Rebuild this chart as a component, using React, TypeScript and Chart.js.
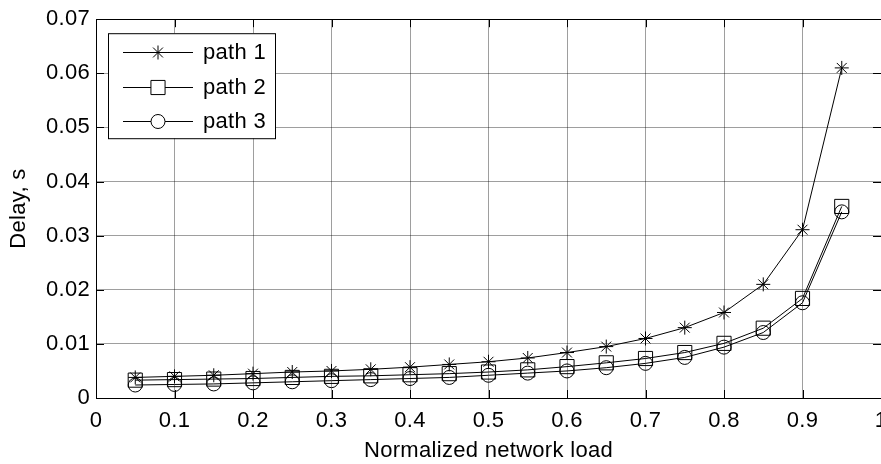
import React, { useEffect, useRef } from "react";
import { Chart, registerables } from "chart.js";
import { drawPoint } from "chart.js/helpers";

Chart.register(...registerables);

const loads = [0.05, 0.1, 0.15, 0.2, 0.25, 0.3, 0.35, 0.4, 0.45, 0.5, 0.55, 0.6, 0.65, 0.7, 0.75, 0.8, 0.85, 0.9, 0.95];
const path1 = [0.0038, 0.0040, 0.0042, 0.0045, 0.0048, 0.0050, 0.0053, 0.0057, 0.0062, 0.0067, 0.0074, 0.0084, 0.0095, 0.0110, 0.0130, 0.0158, 0.0210, 0.0311, 0.0610];
const path2 = [0.0033, 0.0034, 0.0035, 0.0036, 0.0038, 0.0040, 0.0041, 0.0043, 0.0045, 0.0048, 0.0052, 0.0058, 0.0065, 0.0073, 0.0084, 0.0101, 0.0129, 0.0184, 0.0354];
const path3 = [0.0024, 0.0025, 0.0026, 0.0028, 0.0030, 0.0032, 0.0034, 0.0036, 0.0038, 0.0042, 0.0046, 0.0050, 0.0056, 0.0064, 0.0075, 0.0094, 0.0121, 0.0176, 0.0344];
const seriesNames = ["path 1", "path 2", "path 3"];
const xTickLabels = ["0", "0.1", "0.2", "0.3", "0.4", "0.5", "0.6", "0.7", "0.8", "0.9", "1"];
const yTickLabels = ["0", "0.01", "0.02", "0.03", "0.04", "0.05", "0.06", "0.07"];
const xTitle = "Normalized network load";
const yTitle = "Delay, s";

const FONT = "'Liberation Sans', Arial, Helvetica, sans-serif";
const FONT_SIZE = 22;
const SPACING = "0.3px";

const spacingPlugin = {
  id: "spacing",
  beforeUpdate(chart: any) { chart.ctx.letterSpacing = SPACING; },
  beforeLayout(chart: any) { chart.ctx.letterSpacing = SPACING; },
  beforeDraw(chart: any) { chart.ctx.letterSpacing = SPACING; },
};

const boxAndTicks = {
  id: "boxAndTicks",
  afterDatasetsDraw(chart: any) {
    const { ctx, chartArea } = chart;
    const { left, right, top, bottom } = chartArea;
    const L = 8;
    ctx.save();
    ctx.strokeStyle = "#000";
    ctx.lineWidth = 1;
    ctx.beginPath();
    const xs = chart.scales.x;
    xs.ticks.forEach((t: any) => {
      const px = Math.round(xs.getPixelForValue(t.value)) + 0.5;
      ctx.moveTo(px, bottom);
      ctx.lineTo(px, bottom - L);
      ctx.moveTo(px, top);
      ctx.lineTo(px, top + L);
    });
    const ys = chart.scales.y;
    ys.ticks.forEach((t: any) => {
      const py = Math.round(ys.getPixelForValue(t.value)) + 0.5;
      ctx.moveTo(left, py);
      ctx.lineTo(left + L, py);
      ctx.moveTo(right, py);
      ctx.lineTo(right - L, py);
    });
    ctx.stroke();
    ctx.strokeRect(Math.round(left) + 0.5, Math.round(top) + 0.5, Math.round(right - left), Math.round(bottom - top));
    ctx.restore();
  },
};

const lineLegend = {
  id: "lineLegend",
  afterDraw(chart: any) {
    const { ctx, chartArea } = chart;
    const bx = chartArea.left + 12;
    const by = chartArea.top + 14;
    const bw = 167;
    const bh = 105;
    ctx.save();
    ctx.letterSpacing = SPACING;
    ctx.fillStyle = "#fff";
    ctx.fillRect(bx, by, bw, bh);
    ctx.strokeStyle = "#000";
    ctx.lineWidth = 1;
    ctx.strokeRect(bx + 0.5, by + 0.5, bw, bh);
    chart.data.datasets.forEach((ds: any, i: number) => {
      const cy = by + 19 + i * 34.5;
      ctx.strokeStyle = "#000";
      ctx.lineWidth = 1;
      ctx.beginPath();
      ctx.moveTo(bx + 15, Math.round(cy) + 0.5);
      ctx.lineTo(bx + 85, Math.round(cy) + 0.5);
      ctx.stroke();
      ctx.fillStyle = "#fff";
      drawPoint(ctx, { pointStyle: ds.pointStyle, radius: ds.pointRadius, borderWidth: 1, rotation: 0 } as any, bx + 50, Math.round(cy) + 0.5);
      ctx.fillStyle = "#000";
      ctx.font = `${FONT_SIZE}px ${FONT}`;
      ctx.textBaseline = "middle";
      ctx.textAlign = "left";
      ctx.fillText(ds.label, bx + 95, cy + 1);
    });
    ctx.restore();
  },
};

export default function App() {
  const ref = useRef<HTMLCanvasElement | null>(null);
  useEffect(() => {
    if (!ref.current) return;
    const mk = (label: string, vals: number[], style: string, r: number) => ({
      label,
      data: loads.map((x, i) => ({ x, y: vals[i] })),
      borderColor: "#000",
      backgroundColor: "rgba(0,0,0,0)",
      borderWidth: 1,
      pointStyle: style,
      pointRadius: r,
      pointBorderColor: "#000",
      pointBackgroundColor: "rgba(0,0,0,0)",
      pointBorderWidth: 1,
      tension: 0,
      fill: false,
    });
    const chart = new Chart(ref.current, {
      type: "line",
      data: {
        datasets: [
          mk(seriesNames[0], path1, "star", 7),
          mk(seriesNames[1], path2, "rect", 10),
          mk(seriesNames[2], path3, "circle", 7),
        ],
      },
      options: {
        responsive: false,
        animation: false,
        devicePixelRatio: 1,
        layout: { padding: { left: 0, top: 16, right: 22, bottom: 0 } },
        plugins: { legend: { display: false }, tooltip: { enabled: false } },
        scales: {
          x: {
            type: "linear",
            min: 0,
            max: 1,
            afterFit: (s: any) => { s.height = 66; },
            ticks: {
              stepSize: 0.1,
              padding: 10,
              color: "#000",
              font: { family: FONT, size: FONT_SIZE },
              maxRotation: 0,
              callback: (_v: any, i: number) => xTickLabels[i],
            },
            grid: { color: "rgba(0,0,0,0.38)", lineWidth: 1, drawTicks: false },
            border: { display: true, color: "#000", width: 1 },
            title: { display: true, text: xTitle, color: "#000", font: { family: FONT, size: FONT_SIZE }, padding: { top: 0, bottom: 0 } },
          },
          y: {
            type: "linear",
            min: 0,
            max: 0.07,
            afterFit: (s: any) => { s.width = 96; },
            ticks: {
              stepSize: 0.01,
              padding: 6,
              color: "#000",
              font: { family: FONT, size: FONT_SIZE },
              callback: (_v: any, i: number) => yTickLabels[i],
            },
            grid: { color: "rgba(0,0,0,0.38)", lineWidth: 1, drawTicks: false },
            border: { display: true, color: "#000", width: 1 },
            title: { display: true, text: yTitle, color: "#000", font: { family: FONT, size: FONT_SIZE }, padding: { top: 6, bottom: 0 } },
          },
        },
      },
      plugins: [spacingPlugin, boxAndTicks, lineLegend],
    } as any);
    return () => chart.destroy();
  }, []);
  return (
    <div style={{ position: "fixed", left: 0, top: 0, width: 881, height: 464, overflow: "hidden", background: "#fff" }}>
      <canvas ref={ref} width={903} height={464} style={{ width: 903, height: 464, display: "block" }} />
    </div>
  );
}
